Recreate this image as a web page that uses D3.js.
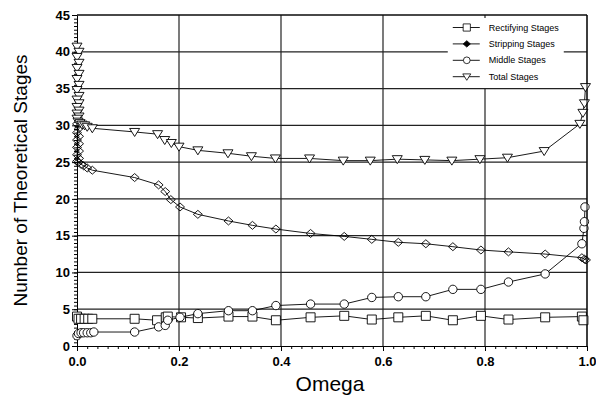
<!DOCTYPE html>
<html>
<head>
<meta charset="utf-8">
<script src="https://cdn.jsdelivr.net/npm/d3@7"></script>
<style>
  body { margin: 0; background: #fff; }
  svg { display: block; font-family: "Liberation Sans", Arial, sans-serif; }
</style>
</head>
<body>
<svg width="596" height="399"></svg>
<script>
// Rectifying stages (squares)
var rectW = [0.0, 0.003, 0.008, 0.015, 0.022, 0.03, 0.113, 0.157, 0.174, 0.178, 0.204, 0.237, 0.297, 0.344, 0.39, 0.458, 0.524, 0.578, 0.63, 0.684, 0.737, 0.792, 0.846, 0.918, 0.99, 0.993];
var rectV = [4.0, 3.7, 3.7, 3.7, 3.7, 3.7, 3.7, 3.5, 3.9, 4.0, 3.9, 3.8, 4.0, 4.0, 3.5, 3.9, 4.1, 3.6, 3.9, 4.1, 3.5, 4.1, 3.6, 3.9, 4.0, 3.5];

// Stripping stages (diamonds)
var stripW = [0.0, 0.004, 0.0, 0.004, 0.0, 0.004, 0.0, 0.004, 0.0, 0.004, 0.0, 0.003, 0.008, 0.013, 0.02, 0.03, 0.113, 0.16, 0.173, 0.184, 0.202, 0.237, 0.297, 0.344, 0.39, 0.458, 0.524, 0.578, 0.63, 0.684, 0.737, 0.792, 0.846, 0.918, 0.99, 0.995, 0.998];
var stripV = [30.2, 29.6, 29.0, 28.5, 28.0, 27.5, 27.0, 26.5, 26.0, 25.5, 25.1, 25.0, 24.7, 24.5, 24.2, 23.9, 22.9, 21.9, 21.0, 19.9, 18.9, 17.9, 17.0, 16.4, 15.9, 15.3, 14.9, 14.5, 14.1, 13.9, 13.5, 13.05, 12.8, 12.5, 12.0, 11.8, 11.7];

// Middle stages (circles)
var midW = [0.0, 0.003, 0.008, 0.013, 0.02, 0.027, 0.033, 0.113, 0.16, 0.173, 0.178, 0.202, 0.237, 0.297, 0.344, 0.39, 0.458, 0.524, 0.578, 0.63, 0.684, 0.737, 0.792, 0.846, 0.918, 0.99, 0.994, 0.995, 0.996];
var midV = [1.4, 1.7, 1.8, 1.8, 1.8, 1.8, 1.9, 1.9, 2.6, 2.8, 3.5, 3.9, 4.4, 4.8, 4.8, 5.5, 5.7, 5.7, 6.6, 6.7, 6.7, 7.7, 7.7, 8.7, 9.8, 13.9, 16.0, 16.9, 18.9];

// Total stages (down triangles)
var totW = [0.0, 0.004, 0.0, 0.004, 0.0, 0.004, 0.0, 0.004, 0.0, 0.004, 0.0, 0.004, 0.0, 0.004, 0.0, 0.004, 0.0, 0.002, 0.006, 0.01, 0.015, 0.02, 0.03, 0.113, 0.158, 0.172, 0.185, 0.2, 0.237, 0.296, 0.342, 0.389, 0.456, 0.522, 0.575, 0.628, 0.682, 0.735, 0.79, 0.844, 0.916, 0.986, 0.992, 0.995, 0.997];
var totV = [40.7, 40.0, 39.3, 38.5, 37.8, 37.0, 36.3, 35.5, 34.8, 34.0, 33.5, 33.0, 32.5, 32.0, 31.6, 31.2, 30.9, 30.5, 30.3, 30.1, 30.0, 29.8, 29.6, 29.1, 28.8, 28.0, 27.6, 27.1, 26.6, 26.2, 25.8, 25.5, 25.5, 25.2, 25.2, 25.4, 25.3, 25.2, 25.4, 25.6, 26.5, 30.2, 31.7, 33.0, 35.2];

var seriesNames = ["Rectifying Stages", "Stripping Stages", "Middle Stages", "Total Stages"];
var xTicks = [0, 0.2, 0.4, 0.6, 0.8, 1.0];
var yTicks = [0, 5, 10, 15, 20, 25, 30, 35, 40, 45];

var svg = d3.select("svg"),
    margin = {top: 15, right: 9, bottom: 53, left: 77},
    width = +svg.attr("width") - margin.left - margin.right,
    height = +svg.attr("height") - margin.top - margin.bottom;

var g = svg.append("g")
    .attr("transform", "translate(" + margin.left + "," + margin.top + ")");

var xScale = d3.scaleLinear().domain([0, 1]).range([0, width]);
var yScale = d3.scaleLinear().domain([0, 45]).range([height, 0]);

// marker shapes
function shapePath(kind) {
  if (kind == "square") return "M-4.5,-4.5H4.5V4.5H-4.5Z";
  if (kind == "diamond") return "M0,-4L4.5,0L0,4L-4.5,0Z";
  if (kind == "circle") return "M4.2,0A4.2,4.2 0 1,1 -4.2,0A4.2,4.2 0 1,1 4.2,0Z";
  return "M-5,-3.5H5L0,4.5Z"; // triangle down
}

var series = [
  {name: seriesNames[0], w: rectW, v: rectV, kind: "square", fill: "#fff"},
  {name: seriesNames[1], w: stripW, v: stripV, kind: "diamond", fill: "none"},
  {name: seriesNames[2], w: midW, v: midV, kind: "circle", fill: "#fff"},
  {name: seriesNames[3], w: totW, v: totV, kind: "triangle", fill: "#fff"}
];

// grid
g.append("g").selectAll("line")
    .data(yTicks.slice(1))
    .enter().append("line")
    .attr("x1", 0).attr("x2", width)
    .attr("y1", function(d) { return yScale(d); })
    .attr("y2", function(d) { return yScale(d); })
    .attr("stroke", "#222").attr("stroke-width", 1.2);

g.append("g").selectAll("line")
    .data(xTicks.slice(1))
    .enter().append("line")
    .attr("y1", 0).attr("y2", height)
    .attr("x1", function(d) { return xScale(d); })
    .attr("x2", function(d) { return xScale(d); })
    .attr("stroke", "#222").attr("stroke-width", 1.2);

// minor ticks
g.append("g")
    .attr("transform", "translate(0," + height + ")")
    .call(d3.axisBottom(xScale).ticks(50).tickSize(3).tickFormat(""))
    .call(function(a) { a.select(".domain").remove(); });

g.append("g")
    .call(d3.axisLeft(yScale).ticks(90).tickSize(3).tickFormat(""))
    .call(function(a) { a.select(".domain").remove(); });

// major axes
var xAxis = g.append("g")
    .attr("transform", "translate(0," + height + ")")
    .call(d3.axisBottom(xScale).tickValues(xTicks).tickSize(5).tickSizeOuter(0).tickFormat(d3.format(".1f")));

var yAxis = g.append("g")
    .call(d3.axisLeft(yScale).tickValues(yTicks).tickSize(5).tickSizeOuter(0).tickPadding(2));

[xAxis, yAxis].forEach(function(a) {
  a.selectAll("text")
    .style("font-family", "Liberation Sans, Arial, sans-serif")
    .style("font-size", "13px")
    .style("font-weight", "bold")
    .attr("fill", "#000");
  a.selectAll("line, path").attr("stroke", "#000");
});
xAxis.selectAll("text").attr("dy", "0.95em");

// lines and markers
var line = d3.line()
    .x(function(d) { return xScale(d[0]); })
    .y(function(d) { return yScale(d[1]); });

series.forEach(function(s) {
  var pts = s.w.map(function(w, i) { return [w, s.v[i]]; });
  g.append("path")
    .datum(pts)
    .attr("d", line)
    .attr("fill", "none")
    .attr("stroke", "#000")
    .attr("stroke-width", 0.9);
  g.append("g").selectAll("path")
    .data(pts)
    .enter().append("path")
    .attr("d", shapePath(s.kind))
    .attr("transform", function(d) { return "translate(" + xScale(d[0]) + "," + yScale(d[1]) + ")"; })
    .attr("fill", s.fill)
    .attr("stroke", "#000")
    .attr("stroke-width", 0.9);
});

// legend
var legend = g.append("g").attr("transform", "translate(" + (xScale(0.727)) + ",3)");
legend.append("rect")
    .attr("width", 116).attr("height", 70)
    .attr("fill", "#fff");
var items = legend.selectAll(".item")
    .data(series)
    .enter().append("g")
    .attr("transform", function(d, i) { return "translate(0," + (9.5 + i * 16.4) + ")"; });
items.append("line")
    .attr("x1", 5).attr("x2", 32)
    .attr("stroke", "#000").attr("stroke-width", 0.9);
items.append("path")
    .attr("d", function(d) { return shapePath(d.kind); })
    .attr("transform", "translate(19,0) scale(0.8)")
    .attr("fill", function(d) { return d.kind == "diamond" ? "#000" : "#fff"; })
    .attr("stroke", "#000");
items.append("text")
    .attr("x", 41).attr("dy", "0.35em")
    .style("font-size", "9px")
    .text(function(d) { return d.name; });

// box border top/right
g.append("line").attr("x1", 0).attr("x2", width).attr("y1", 0).attr("y2", 0).attr("stroke", "#000");
g.append("line").attr("x1", width).attr("x2", width).attr("y1", 0).attr("y2", height).attr("stroke", "#000");

// titles
svg.append("text")
    .attr("x", margin.left + width / 2 - 2)
    .attr("y", 391)
    .attr("text-anchor", "middle")
    .style("font-size", "21px")
    .text("Omega");

svg.append("text")
    .attr("transform", "translate(27," + (margin.top + height / 2) + ") rotate(-90)")
    .attr("text-anchor", "middle")
    .style("font-size", "19px")
    .text("Number of Theoretical Stages");
</script>
</body>
</html>
